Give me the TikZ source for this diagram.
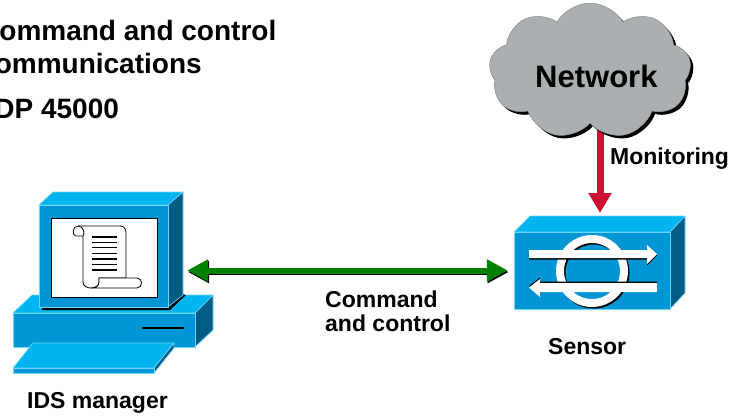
\documentclass[tikz,border=0pt]{standalone}
\usepackage{fontspec}
\setmainfont{Liberation Sans}
\usetikzlibrary{arrows.meta,shapes.symbols}

\definecolor{devtop}{RGB}{0,181,239}
\definecolor{devfront}{RGB}{0,150,214}
\definecolor{devside}{RGB}{0,92,132}
\definecolor{devedge}{RGB}{110,212,250}
\definecolor{cloudgray}{RGB}{170,176,178}
\definecolor{ctrlgreen}{RGB}{0,128,0}
\definecolor{monred}{RGB}{204,16,48}

\pgfdeclarelayer{behind}
\pgfsetlayers{behind,main}

\tikzset{
  face/.style={draw=devedge, line width=0.7pt, line join=round},
  head/.style={font=\bfseries\fontsize{28}{33}\selectfont, inner sep=0pt, anchor=base west},
  lbl/.style={font=\bfseries\fontsize{23}{27}\selectfont, inner sep=0pt, anchor=base west},
  netlbl/.style={font=\bfseries\fontsize{31}{36}\selectfont, inner sep=0pt, anchor=base west},
  area/.style={inner sep=0pt, draw=none},
  ctrl/.style={line width=6pt, ctrlgreen,
    {Triangle[length=21pt,width=21pt]}-{Triangle[length=21pt,width=21pt]}},
  ctrlshadow/.style={ctrl, black},
  mon/.style={line width=7pt, monred, -{Triangle[length=20pt,width=22pt]}},
  netcloud/.style={cloud, cloud puffs=9, cloud puff arc=120, aspect=1.5,
    minimum width=202pt, minimum height=136pt, inner sep=0pt},
  scroll/.style={draw=black, line width=0.8pt, fill=white, line join=round},
  ring/.style={line width=8pt},
}

\begin{document}
\begin{tikzpicture}[x=1pt,y=-1pt]
\useasboundingbox (0,0) rectangle (735,415);

% ---- heading ----
\node[head] (title1) at (-21,40) {Command and control};
\node[head] (title2) at (-21,73) {communications};
\node[head] (title3) at (-26,118) {UDP 45000};

% ---- IDS manager workstation ----
% base unit
\filldraw[face, fill=devtop] (13,313) -- (32,295) -- (213,295) -- (195,313) -- cycle;
\filldraw[face, fill=devside] (195,313) -- (213,295) -- (213,330) -- (195,347) -- cycle;
\filldraw[face, fill=devfront] (13,313) rectangle (195,347);
\draw[line width=2.5pt] (142,328) -- (184,328);
% shadow of the monitor on the base
\fill[black] (42,306) -- (168,306) -- (182,294) -- (186,295) -- (170,310) -- (42,310) -- cycle;
% monitor
\filldraw[face, fill=devtop] (39,205) -- (53,192) -- (183,192) -- (168,205) -- cycle;
\filldraw[face, fill=devside] (168,205) -- (183,192) -- (183,295) -- (168,307) -- cycle;
\filldraw[face, fill=devfront] (39,205) rectangle (168,307);
\filldraw[draw=black, line width=0.8pt, fill=white] (51,218) rectangle (157,297);
% keyboard
\filldraw[face, fill=devtop] (13,368) -- (33,343) -- (174,343) -- (154,368) -- cycle;
\filldraw[face, fill=devside] (154,368) -- (174,343) -- (174,348) -- (154,373) -- cycle;
\filldraw[face, fill=devfront] (13,368) rectangle (154,373);
% document scroll on the screen
\draw[scroll] (78,226) -- (120,226) .. controls (124,226) and (126,229) .. (126,233)
  -- (126,278) -- (99,278) -- (99,282) .. controls (99,290) and (83,290) .. (83,282)
  -- (83,236) -- (76,236) .. controls (72,236) and (72,226) .. (78,226) -- cycle;
\draw[scroll] (78,226) .. controls (84,226) and (85,234) .. (83,236);
\draw[scroll] (99,278) -- (137,278) .. controls (143,278) and (143,288) .. (137,288)
  -- (91,288) .. controls (96,288) and (99,286) .. (99,282) -- cycle;
\foreach \ly in {237,242.5,247.5,253.5,259,264.5,270}
  \draw[line width=1.8pt] (92,\ly) -- (117,\ly);
\node[area, minimum width=144pt, minimum height=115pt] (mgr) at (111,249.5) {};
\node[lbl] (mgrlbl) at (27,408) {IDS manager};

% ---- sensor ----
\filldraw[face, fill=devtop] (514,232) -- (530,216) -- (685,216) -- (670,232) -- cycle;
\filldraw[face, fill=devside] (670,232) -- (685,216) -- (685,293) -- (670,309) -- cycle;
\filldraw[face, fill=devfront] (514,232) rectangle (670,309);
\draw[ring, black] (593.5,272.5) circle[radius=32pt];
\draw[ring, white] (592,271) circle[radius=32pt];
% traffic arrows
\fill[black] (529,251.5) -- (647,251.5) -- (647,246.5) -- (657,255.5) -- (647,265.5) -- (647,259.5) -- (529,259.5) -- cycle;
\fill[white] (529,250) -- (647,250) -- (647,245) -- (657,254) -- (647,264) -- (647,258) -- (529,258) -- cycle;
\fill[black] (657,281.5) -- (540,281.5) -- (540,277.5) -- (529,286) -- (540,295.5) -- (540,290.5) -- (657,290.5) -- cycle;
\fill[white] (657,283) -- (540,283) -- (540,279) -- (529,287.5) -- (540,297) -- (540,292) -- (657,292) -- cycle;
\node[area, minimum width=156pt, minimum height=77pt] (sensor) at (592,270.5) {};
\coordinate (sensortop) at (600,213);
\node[lbl] (sensorlbl) at (548,354) {Sensor};

% ---- network cloud and monitoring link ----
\node[netcloud, fill=black] (netshadow) at (593,74) {};
\node[netcloud, fill=cloudgray, draw=black!45, line width=0.5pt] (net) at (590,71) {};
\node[netlbl] (netlbl) at (535,87) {Network};
\node[lbl] (monlbl) at (610,164) {Monitoring};
\begin{pgfonlayer}{behind}
  \draw[mon] (net.center -| sensortop) -- (sensortop);
\end{pgfonlayer}

% ---- command and control link ----
\draw[ctrlshadow, shorten <=4pt, shorten >=6pt, transform canvas={xshift=0.8pt,yshift=-1.5pt}]
  (mgr.east |- sensor.west) -- (sensor.west);
\draw[ctrl, shorten <=4pt, shorten >=6pt] (mgr.east |- sensor.west) -- (sensor.west);
\node[lbl] (ctrllbl1) at (325,307) {Command};
\node[lbl] (ctrllbl2) at (325,331) {and control};
\end{tikzpicture}
\end{document}
